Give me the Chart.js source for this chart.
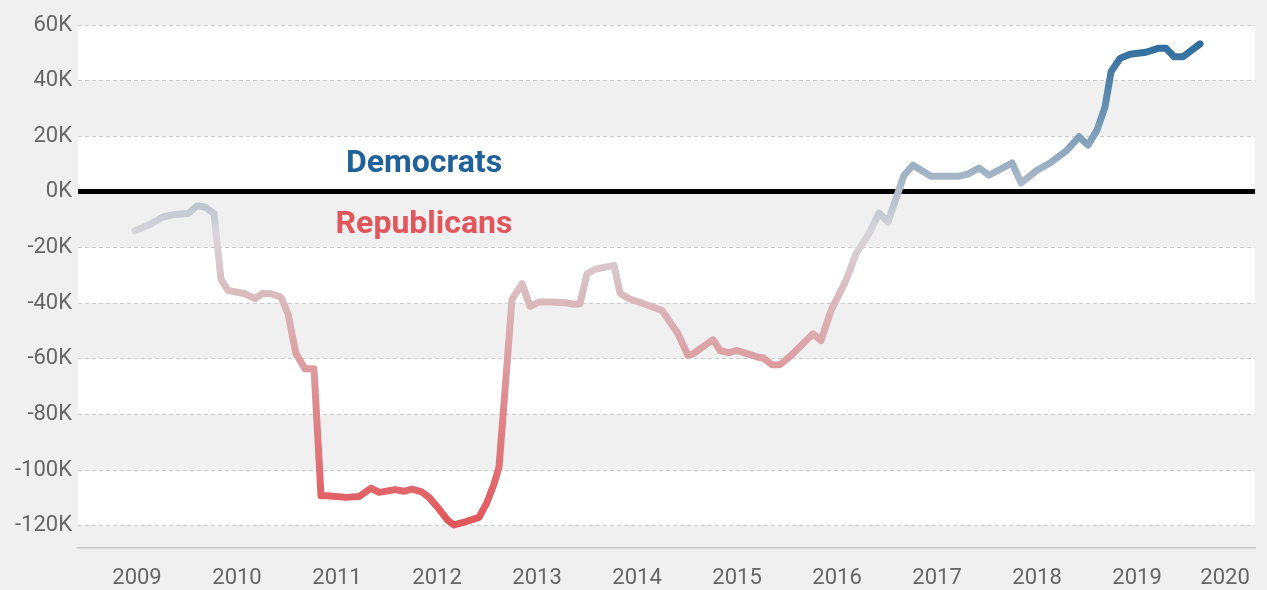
<!DOCTYPE html>
<html>
<head>
<meta charset="utf-8">
<script src="https://cdn.jsdelivr.net/npm/chart.js@4.4.1/dist/chart.umd.min.js"></script>
<style>
  html, body { margin: 0; padding: 0; background: #f0f0f0; }
  #wrap { width: 1267px; height: 590px; }
</style>
</head>
<body>
<div id="wrap"><canvas id="chart" width="1267" height="590"></canvas></div>
<script>
// Party registration margin (thousands), Democrats minus Republicans, by decimal year
const dates = [
  2008.98, 2009.13, 2009.26, 2009.38, 2009.51, 2009.60, 2009.68, 2009.77, 2009.84, 2009.91,
  2010.08, 2010.18, 2010.26, 2010.34, 2010.44, 2010.51, 2010.59, 2010.68, 2010.77, 2010.84,
  2010.91, 2011.09, 2011.22, 2011.34, 2011.42, 2011.58, 2011.67, 2011.75, 2011.84, 2011.92,
  2012.02, 2012.11, 2012.17, 2012.29, 2012.42, 2012.50, 2012.57, 2012.62, 2012.69, 2012.75,
  2012.85, 2012.93, 2013.02, 2013.15, 2013.28, 2013.37, 2013.43, 2013.50, 2013.58, 2013.77,
  2013.83, 2013.92, 2014.08, 2014.25, 2014.41, 2014.51, 2014.56, 2014.76, 2014.83, 2014.92,
  2015.00, 2015.21, 2015.26, 2015.35, 2015.43, 2015.54, 2015.76, 2015.84, 2015.94, 2016.09,
  2016.19, 2016.32, 2016.42, 2016.51, 2016.67, 2016.76, 2016.94, 2017.21, 2017.31, 2017.42,
  2017.52, 2017.75, 2017.84, 2018.00, 2018.13, 2018.30, 2018.42, 2018.51, 2018.60, 2018.68,
  2018.74, 2018.83, 2018.93, 2019.09, 2019.21, 2019.29, 2019.37, 2019.46, 2019.63
];
const margin = [
  -14.0, -11.7, -9.0, -8.1, -7.8, -5.1, -5.4, -7.8, -31.5, -35.4,
  -36.6, -38.4, -36.4, -36.6, -37.8, -43.8, -58.2, -63.6, -63.6, -109.2,
  -109.2, -109.8, -109.5, -106.5, -108.0, -107.0, -107.6, -106.8, -107.7, -109.8,
  -114.0, -118.2, -119.7, -118.5, -117.0, -111.6, -105.0, -99.0, -66.6, -38.6,
  -33.0, -41.1, -39.6, -39.6, -39.8, -40.4, -40.2, -29.4, -27.8, -26.4,
  -36.4, -38.4, -40.4, -42.6, -51.0, -58.8, -58.2, -53.1, -57.0, -57.8,
  -57.0, -59.4, -59.6, -62.1, -62.1, -58.8, -51.0, -53.4, -42.6, -31.8,
  -22.2, -15.0, -7.6, -10.8, 6.0, 9.6, 5.6, 5.6, 6.4, 8.6,
  6.0, 10.4, 3.2, 7.8, 10.4, 15.0, 19.8, 16.8, 22.2, 30.6,
  43.2, 48.0, 49.5, 50.2, 51.6, 51.6, 48.6, 48.6, 53.2
];

const yTicks = [-120, -100, -80, -60, -40, -20, 0, 20, 40, 60];
const xTickPos = [2009, 2010, 2011, 2012, 2013, 2014, 2015, 2016, 2017, 2018, 2019, 2019.88];
const xTickLabels = ['2009', '2010', '2011', '2012', '2013', '2014', '2015', '2016', '2017', '2018', '2019', '2020'];

// Side labels, placed by their text baseline in data units
const partyLabels = [
  { text: 'Democrats',   x: 2011.87, y: 7.0,   color: '#1f6198' },
  { text: 'Republicans', x: 2011.87, y: -14.6, color: '#e1565b' }
];

const TICK_FONT = { family: 'Roboto', size: 22 };
const TICK_COLOR = '#666666';

// Line colour follows the value: red deep below zero, grey near even, blue above
function marginGradient(chart) {
  const { ctx, chartArea, scales } = chart;
  if (!chartArea) return '#999';
  const y = scales.y;
  const top = y.getPixelForValue(60);
  const bottom = y.getPixelForValue(-120);
  const g = ctx.createLinearGradient(0, bottom, 0, top);
  const frac = v => (v + 120) / 180;
  g.addColorStop(0, 'rgb(226,86,90)');
  g.addColorStop(frac(-15), 'rgb(216,213,217)');
  g.addColorStop(frac(55), 'rgb(42,106,156)');
  g.addColorStop(1, 'rgb(38,100,152)');
  return g;
}

// Alternating white / grey bands between the horizontal gridlines
const bandsPlugin = {
  id: 'bands',
  beforeDraw(chart) {
    const { ctx, chartArea, scales } = chart;
    const y = scales.y;
    const sorted = yTicks.slice().sort((a, b) => b - a);
    ctx.save();
    ctx.fillStyle = '#ffffff';
    for (let i = 0; i < sorted.length - 1; i += 2) {
      const y1 = y.getPixelForValue(sorted[i]);
      const y2 = y.getPixelForValue(sorted[i + 1]);
      ctx.fillRect(chartArea.left, y1, chartArea.right - chartArea.left, y2 - y1);
    }
    ctx.restore();
  },
  afterDraw(chart) {
    const { ctx, scales } = chart;
    ctx.save();
    ctx.font = 'bold 32px Roboto';
    ctx.textAlign = 'center';
    ctx.textBaseline = 'alphabetic';
    partyLabels.forEach(l => {
      ctx.fillStyle = l.color;
      ctx.fillText(l.text, scales.x.getPixelForValue(l.x), scales.y.getPixelForValue(l.y));
    });
    ctx.restore();
  }
};

new Chart(document.getElementById('chart'), {
  type: 'line',
  data: {
    datasets: [{
      data: dates.map((d, i) => ({ x: d, y: margin[i] })),
      borderColor: ctx => marginGradient(ctx.chart),
      borderWidth: 7,
      borderCapStyle: 'round',
      borderJoinStyle: 'round',
      pointRadius: 0,
      tension: 0,
      fill: false
    }]
  },
  options: {
    responsive: false,
    animation: false,
    layout: { padding: { top: 25, right: 9, left: 0, bottom: 0 } },
    plugins: { legend: { display: false }, tooltip: { enabled: false } },
    scales: {
      x: {
        type: 'linear',
        min: 2008.41,
        max: 2020.18,
        afterBuildTicks: s => { s.ticks = xTickPos.map(v => ({ value: v })); },
        afterFit: s => { s.height = 42; },
        ticks: {
          autoSkip: false,
          maxRotation: 0,
          padding: 17,
          font: TICK_FONT,
          color: TICK_COLOR,
          callback: (v, i) => xTickLabels[i]
        },
        grid: { display: false, drawTicks: false },
        border: { display: true, color: '#c8c8c8', width: 1.5 }
      },
      y: {
        min: -128,
        max: 60,
        afterBuildTicks: s => { s.ticks = yTicks.map(v => ({ value: v })); },
        afterFit: s => { s.width = 78; },
        ticks: {
          padding: 6,
          font: TICK_FONT,
          color: TICK_COLOR,
          callback: v => v + 'K'
        },
        grid: {
          drawTicks: false,
          color: c => (c.tick && c.tick.value === 0 ? '#000000' : '#cccccc'),
          lineWidth: c => (c.tick && c.tick.value === 0 ? 5 : 1)
        },
        border: {
          display: false,
          dash: c => (c.tick && c.tick.value === 0 ? [] : [4, 3])
        }
      }
    }
  },
  plugins: [bandsPlugin]
});
</script>
</body>
</html>
